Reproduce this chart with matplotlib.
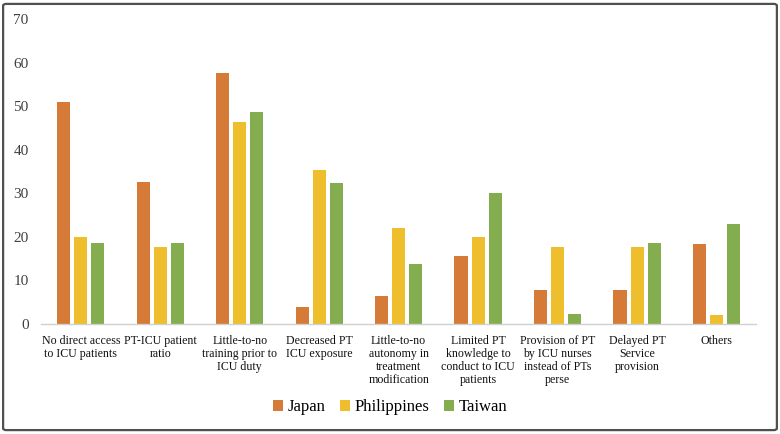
import numpy as np
import matplotlib
matplotlib.use('Agg')
import matplotlib.pyplot as plt
from matplotlib.patches import FancyBboxPatch

categories = ['No direct access\nto ICU patients', 'PT-ICU patient\nratio',
              'Little-to-no\ntraining prior to\nICU duty', 'Decreased PT\nICU exposure',
              'Little-to-no\nautonomy in\ntreatment\nmodification',
              'Limited PT\nknowledge to\nconduct to ICU\npatients',
              'Provision of PT\nby ICU nurses\ninstead of PTs\nperse',
              'Delayed PT\nService\nprovision', 'Others']
japan = [51.1, 32.7, 57.7, 3.8, 6.4, 15.6, 7.7, 7.7, 18.3]
philippines = [19.9, 17.6, 46.4, 35.4, 22.1, 19.9, 17.6, 17.6, 2.1]
taiwan = [18.5, 18.5, 48.6, 32.4, 13.8, 30.1, 2.2, 18.5, 23.0]
y_ticks = [0, 10, 20, 30, 40, 50, 60, 70]

plt.rcParams['font.family'] = ['Liberation Serif', 'DejaVu Serif']

fig = plt.figure(figsize=(7.8, 4.34), dpi=100)
ax = fig.add_axes([0.0526, 0.2535, 0.917, 0.702])

x = np.arange(len(categories))
w = 0.165
step = 0.215
colors = ['#D67A38', '#EFBE2D', '#83AD4F']
for i, (vals, name) in enumerate([(japan, 'Japan'), (philippines, 'Philippines'), (taiwan, 'Taiwan')]):
    ax.bar(x + (i - 1) * step, vals, width=w, color=colors[i], label=name)

ax.set_xlim(-0.5, len(categories) - 0.5)
ax.set_ylim(0, 70)
ax.set_yticks(y_ticks)
ax.tick_params(axis='y', length=0, labelsize=11, colors='#404040', pad=9)
ax.set_xticks(x)
ax.set_xticklabels(categories, fontsize=8.6, color='#111111', linespacing=1.12)
ax.tick_params(axis='x', length=0, pad=8)
for s in ['left', 'right', 'top']:
    ax.spines[s].set_visible(False)
ax.spines['bottom'].set_color('#D0D0D0')
ax.spines['bottom'].set_linewidth(1.0)

fig.legend(loc='center', bbox_to_anchor=(0.5, 0.062), ncol=3, frameon=False,
           fontsize=12, handlelength=0.6, handleheight=0.6,
           handletextpad=0.25, columnspacing=0.9)

border = FancyBboxPatch((0.004, 0.009), 0.992, 0.982, boxstyle='round,pad=0,rounding_size=0.004',
                        transform=fig.transFigure, fill=False, edgecolor='#505050', linewidth=1.6)
fig.patches.append(border)

fig.savefig('out.png', dpi=100)
